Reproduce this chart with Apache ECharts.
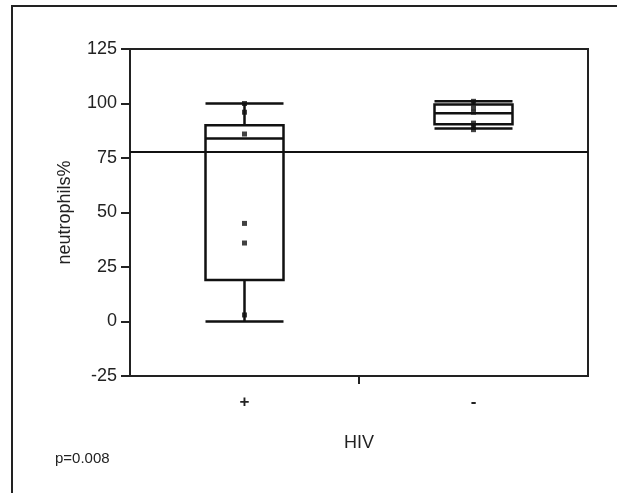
<!DOCTYPE html>
<html>
<head>
<meta charset="utf-8">
<script src="https://cdn.jsdelivr.net/npm/echarts@6/dist/echarts.min.js"></script>
<style>
html,body{margin:0;padding:0;background:#fff;}
#frame{position:absolute;left:11px;top:5px;width:620px;height:500px;border-left:2px solid #222;border-top:2px solid #222;}
#chart{position:absolute;left:0;top:0;width:617px;height:493px;}
</style>
</head>
<body>
<div id="frame"></div>
<div id="chart"></div>
<script>
const categories = ['+', '-'];
// [min, Q1, median, Q3, max]
const boxValues = [
  [0, 19, 84, 90, 100],
  [88.5, 90.5, 95.5, 99.5, 101]
];
const pointsPos = [100, 96, 86, 45, 36, 3];
const pointsNeg = [101, 98, 96, 91, 89, 88];
const refLine = 78;
const yTicks = { min: -25, max: 125, interval: 25 };
const yName = 'neutrophils%';
const xName = 'HIV';
const pText = 'p=0.008';

const scatterData = [];
pointsPos.forEach(v => scatterData.push([categories[0], v]));
pointsNeg.forEach(v => scatterData.push([categories[1], v]));

const font = 'Liberation Sans, Arial, Helvetica, sans-serif';
const chart = echarts.init(document.getElementById('chart'));
chart.setOption({
  animation: false,
  backgroundColor: 'transparent',
  grid: { left: 130, right: 29, top: 49, bottom: 117, show: true, borderColor: '#222', borderWidth: 2, backgroundColor: 'transparent' },
  graphic: [{
    type: 'text', left: 55, top: 451,
    style: { text: pText, fontSize: 15, fontFamily: font, fill: '#222' }
  }],
  xAxis: [{
    type: 'category',
    data: categories,
    boundaryGap: true,
    name: xName,
    nameLocation: 'middle',
    nameGap: 58,
    nameTextStyle: { fontSize: 18, fontFamily: font, color: '#222' },
    axisLine: { onZero: false, lineStyle: { color: '#222', width: 2 } },
    axisTick: { show: false },
    axisLabel: { fontSize: 17, fontWeight: 'bold', fontFamily: font, color: '#222', margin: 18 },
    splitLine: { show: false }
  }, {
    type: 'value',
    position: 'bottom',
    min: 0, max: categories.length,
    axisLine: { show: false, onZero: false },
    axisLabel: { show: false },
    axisTick: { show: true, length: 8, customValues: [1], lineStyle: { color: '#222', width: 2 } },
    splitLine: { show: false }
  }],
  yAxis: {
    type: 'value',
    min: yTicks.min, max: yTicks.max, interval: yTicks.interval,
    name: yName,
    nameLocation: 'middle',
    nameGap: 56,
    nameTextStyle: { fontSize: 18, fontFamily: font, color: '#222' },
    axisLine: { show: true, lineStyle: { color: '#222', width: 2 } },
    axisTick: { show: true, length: 9, lineStyle: { color: '#222', width: 2 } },
    axisLabel: { fontSize: 18, fontFamily: font, color: '#222', margin: 13 },
    splitLine: { show: false }
  },
  series: [{
    type: 'boxplot',
    data: boxValues,
    boxWidth: [78, 78],
    itemStyle: { color: 'transparent', borderColor: '#111', borderWidth: 2.5 },
    markLine: {
      silent: true,
      symbol: 'none',
      label: { show: false },
      lineStyle: { color: '#111', width: 2, type: 'solid' },
      data: [{ yAxis: refLine }]
    }
  }, {
    type: 'scatter',
    data: scatterData,
    symbol: 'rect',
    symbolSize: 5,
    itemStyle: { color: '#111' }
  }]
});
</script>
</body>
</html>
